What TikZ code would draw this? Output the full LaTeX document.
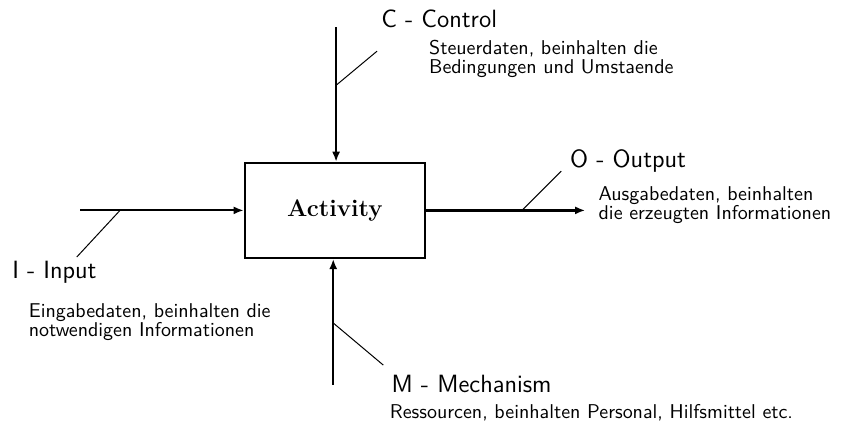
\documentclass[tikz,border=0pt]{standalone}
\usepackage{tikz}
\usetikzlibrary{arrows.meta,calc,positioning}

\begin{document}
\begin{tikzpicture}[
    box/.style={draw,line width=1.2pt,minimum width=3.17cm,minimum height=1.67cm,font=\large\bfseries},
    flow/.style={line width=0.9pt,-{Latex[length=5pt,width=4pt]}},
    lead/.style={line width=0.5pt},
    lbl/.style={anchor=west,inner sep=0pt,font=\sffamily\fontsize{12.5}{15}\selectfont},
    note/.style={anchor=west,inner sep=0pt,align=left,font=\sffamily\fontsize{10}{9.6}\selectfont}
  ]
  \useasboundingbox (0,0) rectangle (15,7.51);

  % activity box
  \node[box] (act) at (5.89,3.81) {Activity};

  % end points of the arrows
  \coordinate (ctop) at (5.91,7.03);
  \coordinate (iin) at (1.41,3.81);
  \coordinate (oout) at (10.29,3.81);
  \coordinate (mbot) at (5.86,0.74);

  \draw[flow] (ctop) -- (ctop |- act.north);
  \draw[flow] (iin) -- (act.west);
  \draw[flow,line width=1.4pt] (act.east) -- (oout);
  \draw[flow] (mbot) -- (mbot |- act.south);

  % leader lines
  \coordinate (cfoot) at (5.91,6.01);
  \coordinate (chead) at (6.63,6.61);
  \coordinate (ifoot) at (2.11,3.81);
  \coordinate (ihead) at (1.35,2.99);
  \coordinate (ofoot) at (9.18,3.81);
  \coordinate (ohead) at (9.87,4.50);
  \coordinate (mfoot) at (5.86,1.83);
  \coordinate (mhead) at (6.74,1.09);
  \draw[lead] (cfoot) -- (chead);
  \draw[lead] (ifoot) -- (ihead);
  \draw[lead] (ofoot) -- (ohead);
  \draw[lead] (mfoot) -- (mhead);

  % labels
  \node[lbl] (ctl) at (6.70,7.17) {C - Control};
  \node[note] (ctx) at (7.54,6.48) {Steuerdaten, beinhalten die\\Bedingungen und Umstaende};
  \node[lbl] (inl) at (0.21,2.73) {I - Input};
  \node[note] (intx) at (0.50,1.85) {Eingabedaten, beinhalten die\\notwendigen Informationen};
  \node[lbl] (outl) at (10.02,4.68) {O - Output};
  \node[note] (outx) at (10.52,3.90) {Ausgabedaten, beinhalten\\die erzeugten Informationen};
  \node[lbl] (mel) at (6.88,0.76) {M - Mechanism};
  \node[note] (metx) at (6.85,0.26) {Ressourcen, beinhalten Personal, Hilfsmittel etc.};
\end{tikzpicture}
\end{document}
